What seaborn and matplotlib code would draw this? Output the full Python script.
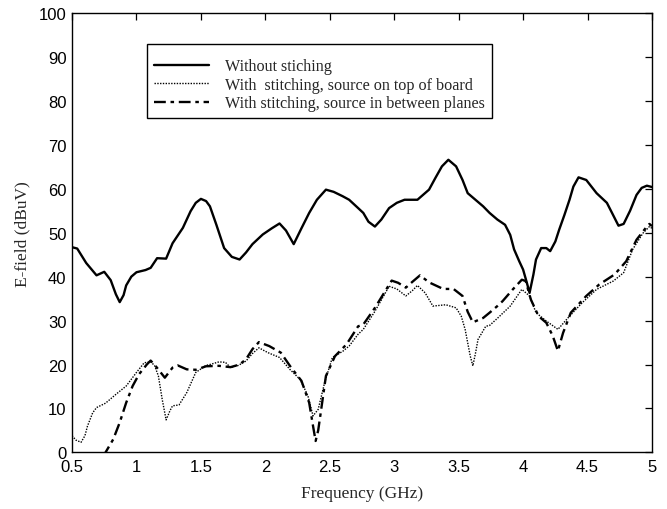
import matplotlib
matplotlib.use("Agg")
import matplotlib.pyplot as plt
import seaborn as sns
import pandas as pd

# E-field versus frequency for three board configurations
freq_no_stitch = [0.50, 0.54, 0.61, 0.69, 0.75, 0.80, 0.84, 0.87, 0.90, 0.92, 0.96, 1.00,
                  1.07, 1.11, 1.16, 1.23, 1.28, 1.36, 1.42, 1.46, 1.50, 1.54, 1.57, 1.62,
                  1.68, 1.74, 1.80, 1.85, 1.90, 1.98, 2.05, 2.11, 2.16, 2.22, 2.28, 2.34,
                  2.40, 2.47, 2.53, 2.60, 2.65, 2.72, 2.76, 2.80, 2.85, 2.90, 2.96, 3.02,
                  3.08, 3.18, 3.27, 3.32, 3.37, 3.42, 3.48, 3.53, 3.57, 3.63, 3.69, 3.74,
                  3.80, 3.86, 3.90, 3.93, 3.97, 4.00, 4.03, 4.05, 4.08, 4.10, 4.14, 4.18,
                  4.21, 4.25, 4.28, 4.32, 4.36, 4.39, 4.43, 4.49, 4.53, 4.57, 4.65, 4.69,
                  4.74, 4.78, 4.83, 4.88, 4.92, 4.96, 5.00]
efield_no_stitch = [46.7, 46.4, 43.1, 40.3, 41.1, 39.2, 36.0, 34.2, 35.8, 38.0, 40.0, 41.0,
                    41.5, 42.0, 44.2, 44.1, 47.6, 51.1, 54.9, 56.8, 57.7, 57.2, 56.0, 51.8,
                    46.5, 44.5, 43.9, 45.5, 47.4, 49.6, 51.0, 52.1, 50.5, 47.4, 51.0, 54.5,
                    57.5, 59.8, 59.3, 58.3, 57.5, 55.6, 54.5, 52.5, 51.4, 53.0, 55.6, 56.8,
                    57.5, 57.5, 59.8, 62.5, 65.1, 66.6, 65.1, 62.0, 59.0, 57.5, 56.0, 54.5,
                    53.0, 51.8, 49.5, 46.2, 43.5, 41.6, 38.5, 36.3, 40.5, 43.9, 46.5, 46.5,
                    45.8, 48.0, 50.7, 54.0, 57.5, 60.5, 62.6, 62.0, 60.5, 59.0, 56.8, 54.5,
                    51.6, 52.0, 55.0, 58.6, 60.2, 60.7, 60.4]

freq_top = [0.50, 0.53, 0.57, 0.60, 0.62, 0.66, 0.69, 0.76, 0.84, 0.92, 1.00, 1.06,
            1.11, 1.14, 1.17, 1.20, 1.23, 1.26, 1.28, 1.33, 1.39, 1.46, 1.54, 1.57,
            1.64, 1.69, 1.73, 1.79, 1.85, 1.90, 1.95, 2.02, 2.11, 2.19, 2.27, 2.33,
            2.37, 2.41, 2.46, 2.52, 2.60, 2.65, 2.72, 2.76, 2.85, 2.96, 3.02, 3.09,
            3.14, 3.18, 3.24, 3.30, 3.40, 3.48, 3.52, 3.55, 3.59, 3.61, 3.63, 3.65,
            3.71, 3.74, 3.80, 3.90, 3.99, 4.05, 4.10, 4.18, 4.27, 4.36, 4.46, 4.57,
            4.70, 4.78, 4.85, 4.93, 4.98, 5.00]
efield_top = [3.8, 2.8, 2.3, 3.8, 6.0, 9.0, 10.2, 11.2, 13.2, 15.1, 18.2, 20.4,
              20.6, 19.8, 17.4, 12.0, 7.4, 9.5, 10.6, 10.8, 13.6, 18.2, 19.8, 20.0,
              20.6, 20.5, 19.3, 19.8, 20.8, 22.5, 23.8, 22.7, 21.6, 18.9, 16.6, 12.9,
              8.3, 9.8, 15.9, 21.6, 23.0, 24.2, 26.9, 28.0, 32.1, 37.8, 37.2, 35.6,
              36.8, 38.0, 36.3, 33.3, 33.6, 32.9, 31.0, 28.0, 21.9, 19.7, 22.5, 25.7,
              28.7, 28.9, 30.5, 33.3, 37.1, 35.6, 31.8, 29.9, 28.0, 31.0, 34.1, 37.1,
              39.0, 40.9, 46.2, 49.9, 51.4, 51.0]

freq_between = [0.74, 0.78, 0.82, 0.87, 0.92, 0.97, 1.02, 1.08, 1.11, 1.15, 1.22, 1.28,
                1.32, 1.39, 1.46, 1.54, 1.64, 1.73, 1.80, 1.85, 1.90, 1.95, 2.03, 2.12,
                2.20, 2.28, 2.34, 2.37, 2.39, 2.41, 2.43, 2.47, 2.54, 2.63, 2.72, 2.76,
                2.85, 2.98, 3.03, 3.09, 3.14, 3.20, 3.27, 3.38, 3.46, 3.53, 3.57, 3.61,
                3.69, 3.74, 3.80, 3.84, 3.92, 3.99, 4.02, 4.06, 4.12, 4.18, 4.23, 4.27,
                4.31, 4.37, 4.49, 4.59, 4.71, 4.80, 4.88, 4.96, 4.98, 5.00]
efield_between = [-1.0, 1.0, 3.0, 6.8, 11.3, 15.1, 17.8, 20.0, 20.9, 19.6, 17.0, 19.3,
                  19.8, 18.9, 18.8, 19.6, 19.7, 19.4, 20.0, 21.2, 23.5, 25.1, 24.2, 22.7,
                  19.3, 16.3, 11.3, 6.0, 2.6, 5.0, 9.1, 17.4, 21.9, 24.6, 28.7, 29.1,
                  32.9, 39.1, 38.6, 37.5, 38.8, 40.3, 38.7, 37.2, 37.2, 35.6, 32.0, 29.6,
                  30.6, 31.8, 33.3, 34.4, 37.1, 39.3, 39.0, 34.8, 31.0, 29.5, 26.5, 23.1,
                  27.2, 31.8, 35.6, 38.2, 40.5, 43.5, 48.4, 51.4, 52.0, 51.5]

series_labels = ["Without stiching",
                 "With  stitching, source on top of board",
                 "With stitching, source in between planes"]

x_ticks = [0.5, 1, 1.5, 2, 2.5, 3, 3.5, 4, 4.5, 5]
x_tick_labels = ["0.5", "1", "1.5", "2", "2.5", "3", "3.5", "4", "4.5", "5"]
y_ticks = [0, 10, 20, 30, 40, 50, 60, 70, 80, 90, 100]

sns.set_style("white")
serif = ["Liberation Serif", "DejaVu Serif"]
sans = ["Liberation Sans", "DejaVu Sans"]
plt.rcParams["font.family"] = sans

fig = plt.figure(figsize=(6.67, 5.10), dpi=100)
ax = fig.add_axes([0.108, 0.111, 0.8695, 0.8615])

df_a = pd.DataFrame({"f": freq_no_stitch, "e": efield_no_stitch})
df_b = pd.DataFrame({"f": freq_top, "e": efield_top})
df_c = pd.DataFrame({"f": freq_between, "e": efield_between})

sns.lineplot(data=df_a, x="f", y="e", ax=ax, color="black", linewidth=1.7,
             label=series_labels[0], sort=False)
sns.lineplot(data=df_b, x="f", y="e", ax=ax, color="black", linewidth=1.0,
             label=series_labels[1], sort=False)
sns.lineplot(data=df_c, x="f", y="e", ax=ax, color="black", linewidth=1.7,
             label=series_labels[2], sort=False)
ax.lines[1].set_dashes([1, 1])
ax.lines[2].set_dashes([5, 2, 1.5, 2])

ax.set_xlim(0.5, 5)
ax.set_ylim(0, 100)
ax.set_xticks(x_ticks)
ax.set_xticklabels(x_tick_labels)
ax.set_yticks(y_ticks)

for side in ax.spines.values():
    side.set_color("black")
    side.set_linewidth(1.0)

ax.tick_params(direction="in", length=5, width=0.9, top=True, right=True,
               labelsize=12, colors="black")
ax.tick_params(axis="x", pad=5)
ax.tick_params(axis="y", pad=4)

ax.set_xlabel("Frequency (GHz)", fontsize=12.5, family=serif, labelpad=8)
ax.set_ylabel("E-field (dBuV)", fontsize=12.5, family=serif, labelpad=6)

# a tiny blank title leaves a little extra room above the first entry
leg = ax.legend(loc="upper left", bbox_to_anchor=(0.13, 0.929), frameon=True,
                fancybox=False, shadow=False, edgecolor="black", framealpha=1,
                prop={"family": serif, "size": 11.6}, handlelength=3.4,
                handletextpad=1.0, labelspacing=0.15, borderpad=0.42,
                borderaxespad=0, title=" ", title_fontsize=4)
leg.get_frame().set_linewidth(1.0)

fig.savefig("out.png", dpi=100, facecolor="white")
